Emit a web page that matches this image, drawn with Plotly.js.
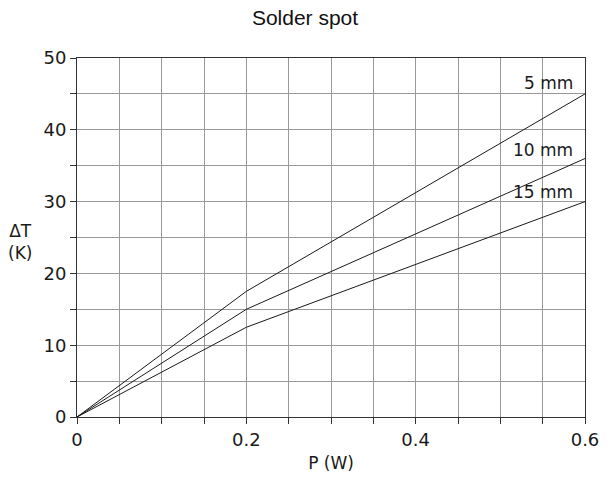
<!DOCTYPE html>
<html>
<head>
<meta charset="utf-8">
<script src="https://cdn.plot.ly/plotly-3.0.1.min.js"></script>
<style>html,body{margin:0;padding:0;background:#fff;}#chart{width:610px;height:477px;}</style>
</head>
<body>
<div id="chart"></div>
<script>
const power = [0, 0.2, 0.6];
const dT_5mm = [0, 17.5, 45];
const dT_10mm = [0, 15, 36];
const dT_15mm = [0, 12.5, 30];
const seriesNames = ["5 mm", "10 mm", "15 mm"];
const labelY = [46.5, 37.2, 31.3];
const xTickVals = [0, 0.2, 0.4, 0.6];
const xTickText = ["0", "0.2", "0.4", "0.6"];

const FONT = "'DejaVu Sans', sans-serif";
const allSeries = [dT_5mm, dT_10mm, dT_15mm];
const traces = allSeries.map((ys, i) => ({
  x: power, y: ys, mode: 'lines', type: 'scatter', name: seriesNames[i],
  line: {color: '#1a1a1a', width: 1}, showlegend: false, hoverinfo: 'skip'
}));

const annotations = seriesNames.map((n, i) => ({
  x: 0.588, y: labelY[i], xref: 'x', yref: 'y', text: n, showarrow: false,
  xanchor: 'right', yanchor: 'middle', font: {family: FONT, size: 17, color: '#1a1a1a'}
}));
annotations.push({
  x: (20 - 77) / 508, y: (417 - 242) / 359, xref: 'paper', yref: 'paper', text: 'ΔT<br>(K)', showarrow: false,
  xanchor: 'center', yanchor: 'middle',
  font: {family: FONT, size: 17, color: '#1a1a1a'}, align: 'center'
});

const layout = {
  width: 610, height: 477,
  margin: {l: 77, r: 25, t: 58, b: 60},
  paper_bgcolor: '#fff', plot_bgcolor: '#fff',
  title: {text: 'Solder spot', font: {family: 'Liberation Sans, Arial, sans-serif', size: 21, color: '#111'}, x: 0.5, xanchor: 'center', xref: 'container', y: 0.962, yanchor: 'middle'},
  xaxis: {
    range: [0, 0.6], tickvals: xTickVals, ticktext: xTickText,
    showline: true, linecolor: '#333', linewidth: 1, mirror: true,
    ticks: 'outside', ticklen: 6, tickcolor: '#333',
    showgrid: true, gridcolor: '#999', gridwidth: 1, zeroline: false,
    minor: {dtick: 0.05, tick0: 0, showgrid: true, gridcolor: '#999', gridwidth: 1, ticks: 'outside', ticklen: 6, tickcolor: '#333'},
    tickfont: {family: FONT, size: 18, color: '#1a1a1a'},
    title: {text: 'P (W)', font: {family: FONT, size: 17, color: '#1a1a1a'}, standoff: 8}
  },
  yaxis: {
    range: [0, 50], dtick: 10, tick0: 0,
    showline: true, linecolor: '#333', linewidth: 1, mirror: true,
    ticks: 'outside', ticklen: 6, tickcolor: '#333',
    showgrid: true, gridcolor: '#999', gridwidth: 1, zeroline: false,
    minor: {dtick: 5, showgrid: true, gridcolor: '#999', gridwidth: 1, ticks: 'outside', ticklen: 6, tickcolor: '#333'},
    tickfont: {family: FONT, size: 18, color: '#1a1a1a'}
  },
  annotations: annotations
};
Plotly.newPlot('chart', traces, layout, {displayModeBar: false, staticPlot: true});
</script>
</body>
</html>
